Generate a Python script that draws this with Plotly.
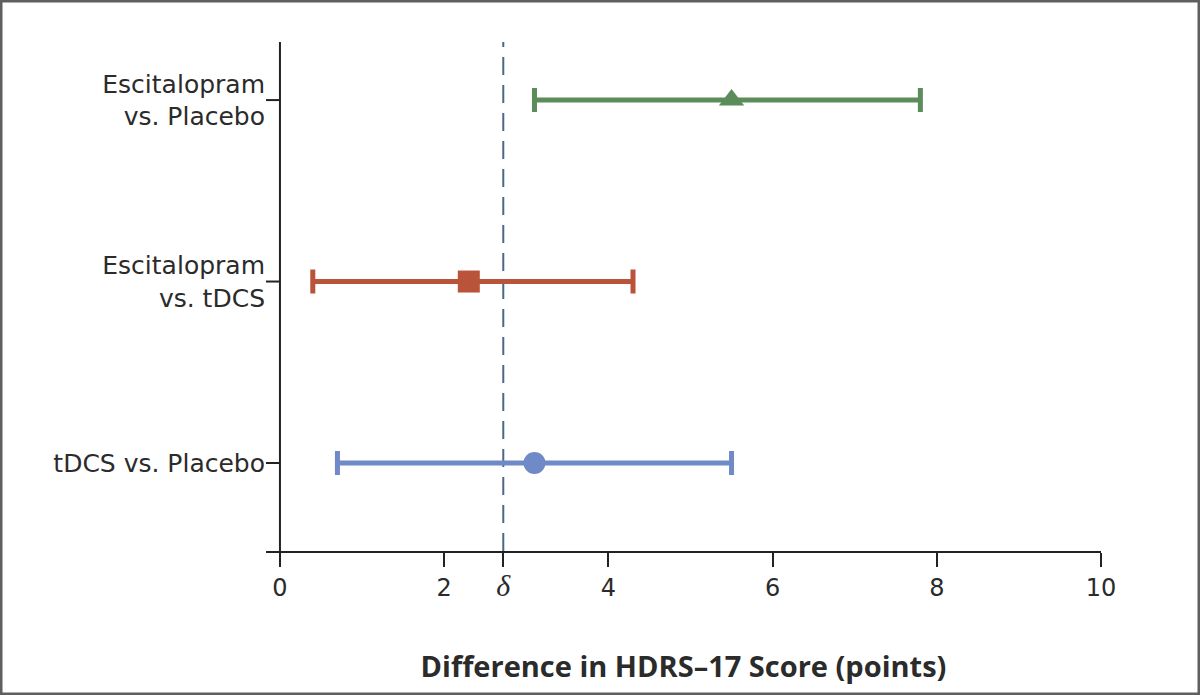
import plotly.graph_objects as go

# Data
categories = ["Escitalopram<br>vs. Placebo", "Escitalopram<br>vs. tDCS", "tDCS vs. Placebo"]
cat_pos = [2, 1, 0]
estimates = [5.5, 2.3, 3.1]
lower = [3.1, 0.4, 0.7]
upper = [7.8, 4.3, 5.5]
colors = ["#5b8c5a", "#b9533a", "#6f8ac6"]
symbols = ["triangle-up", "square", "circle"]
marker_sizes = [22, 22, 22]
delta = 2.72
x_ticks = [0, 2, delta, 4, 6, 8, 10]
x_ticktext = ["0", "2", '<span style="font-family:Liberation Serif;font-size:30px"><i>δ</i></span>',
              "4", "6", "8", "10"]

FONT = "DejaVu Sans"
TEXT = "#2b2b2b"

fig = go.Figure()
for i in range(len(categories)):
    fig.add_trace(go.Scatter(
        x=[estimates[i]], y=[cat_pos[i]], mode="markers",
        marker=dict(symbol=symbols[i], size=marker_sizes[i], color=colors[i], line=dict(width=0)),
        error_x=dict(type="data", symmetric=False,
                     array=[upper[i] - estimates[i]], arrayminus=[estimates[i] - lower[i]],
                     color=colors[i], thickness=5, width=12),
        showlegend=False, cliponaxis=False,
    ))

xmin = -0.17
shapes = []
# y axis line at x=0
shapes.append(dict(type="line", xref="x", yref="paper", x0=0, x1=0, y0=0, y1=1,
                   line=dict(color="#222222", width=2)))
# category ticks
for p in cat_pos:
    shapes.append(dict(type="line", xref="x", yref="y", x0=xmin, x1=0, y0=p, y1=p,
                       line=dict(color="#222222", width=2)))
# delta dashed line
shapes.append(dict(type="line", xref="x", yref="paper", x0=delta, x1=delta, y0=0, y1=1,
                   line=dict(color="#4a6887", width=2, dash="18px,10px"), layer="below"))
# outer frame
L, R, T, B = 266, 99, 42, 144
W, H = 1200, 695
pw, ph = W - L - R, H - T - B
fx0 = (0 - L) / pw
fx1 = (W - L) / pw
fy0 = -(B) / ph
fy1 = (H - B) / ph
shapes.append(dict(type="rect", xref="paper", yref="paper", x0=fx0, x1=fx1, y0=fy0, y1=fy1,
                   line=dict(color="#5f5f5f", width=5), fillcolor="rgba(0,0,0,0)"))

fig.update_layout(
    width=W, height=H,
    margin=dict(l=L, r=R, t=T, b=B),
    paper_bgcolor="white", plot_bgcolor="white",
    font=dict(family=FONT, color=TEXT, size=25),
    shapes=shapes,
    xaxis=dict(range=[xmin, 10], tickvals=x_ticks, ticktext=x_ticktext,
               showline=True, linecolor="#222222", linewidth=2,
               ticks="outside", ticklen=14, tickwidth=2, tickcolor="#222222",
               showgrid=False, zeroline=False, tickfont=dict(size=24, color=TEXT),
               title=dict(text="<b>Difference in HDRS–17 Score (points)</b>",
                          font=dict(size=29, color=TEXT, family="Open Sans"), standoff=56)),
    yaxis=dict(range=[-0.485, 2.32], tickvals=cat_pos, ticktext=categories,
               showline=False, ticks="", showgrid=False, zeroline=False,
               tickfont=dict(size=25, color=TEXT)),
)

fig.write_html("out.html", config={"displayModeBar": False},
               post_script="document.body.style.margin='0';")
